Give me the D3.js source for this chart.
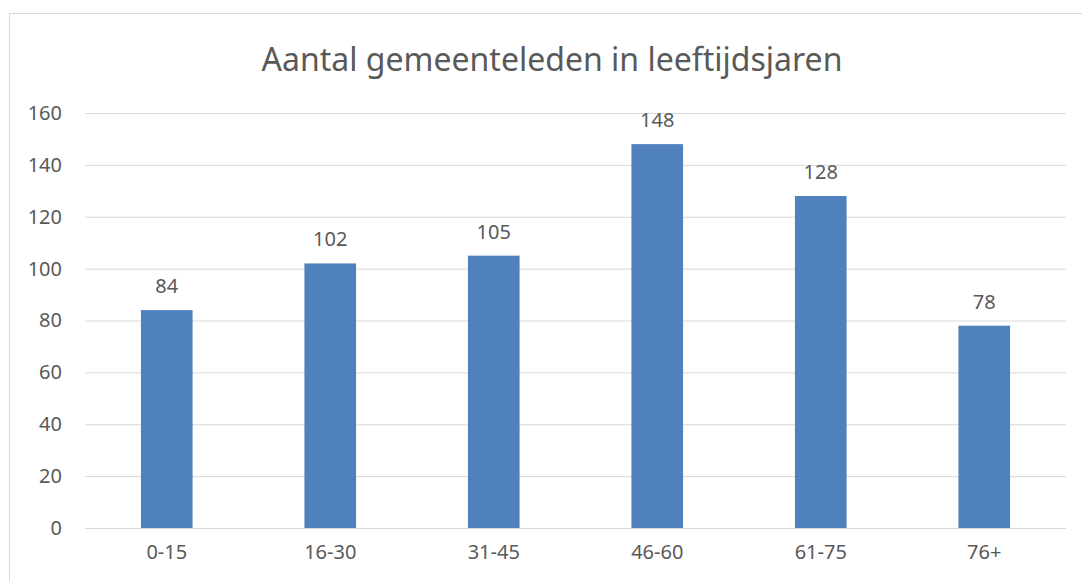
<!DOCTYPE html>
<html>
<head>
<meta charset='UTF-8' />
<title>Aantal gemeenteleden in leeftijdsjaren</title>
<style>
	body { margin: 0; background: #ffffff; }
	svg text { font-family: 'Noto Sans', 'Open Sans', sans-serif; fill: #595959; }
	.axis path { display: none; }
	.axis line { stroke: #d9d9d9; }
</style>
</head>
<body>
<script src='https://d3js.org/d3.v7.min.js'></script>
<script>
'use strict';
const categories = ['0-15', '16-30', '31-45', '46-60', '61-75', '76+'];
const values = [84, 102, 105, 148, 128, 78];
const yTicks = [0, 20, 40, 60, 80, 100, 120, 140, 160];
const title = 'Aantal gemeenteleden in leeftijdsjaren';

const W = 1082, H = 581;
const margin = {top: 113, right: 16, bottom: 53, left: 85};
const width = W - margin.left - margin.right;
const height = H - margin.top - margin.bottom;

const svg = d3.select('body').append('svg')
	.attr('width', W)
	.attr('height', H);

// chart frame
svg.append('rect')
	.attr('x', 9.5).attr('y', 13.5)
	.attr('width', W).attr('height', H)
	.attr('fill', 'none')
	.attr('stroke', '#d9d9d9');

svg.append('text')
	.attr('x', 552).attr('y', 71)
	.attr('text-anchor', 'middle')
	.style('font-size', '32px')
	.text(title);

const g = svg.append('g')
	.attr('transform', 'translate(' + margin.left + ',' + margin.top + ')');

const x = d3.scaleBand()
	.domain(categories)
	.range([0, width])
	.paddingInner(0.684)
	.paddingOuter(0.342);

const y = d3.scaleLinear()
	.domain([0, 160])
	.range([height, 0]);

// gridlines + y labels
const yAxis = g.append('g')
	.attr('class', 'axis')
	.call(d3.axisLeft(y).tickValues(yTicks).tickSize(-width).tickPadding(23));
yAxis.selectAll('line').attr('stroke', '#d9d9d9');
yAxis.selectAll('text').style('font-size', '20px').attr('fill', '#595959');

// x labels
const xAxis = g.append('g')
	.attr('class', 'axis')
	.attr('transform', 'translate(0,' + height + ')')
	.call(d3.axisBottom(x).tickSize(0).tickPadding(17));
xAxis.selectAll('text').style('font-size', '20px').attr('fill', '#595959');

g.selectAll('rect.bar')
	.data(values)
	.enter().append('rect')
	.attr('class', 'bar')
	.attr('x', function(d, i) { return x(categories[i]); })
	.attr('width', x.bandwidth())
	.attr('y', function(d) { return y(d); })
	.attr('height', function(d) { return height - y(d); })
	.attr('fill', '#4f81bd');

g.selectAll('text.lbl')
	.data(values)
	.enter().append('text')
	.attr('class', 'lbl')
	.attr('x', function(d, i) { return x(categories[i]) + x.bandwidth() / 2; })
	.attr('y', function(d) { return y(d) - 17; })
	.attr('text-anchor', 'middle')
	.style('font-size', '20px')
	.text(function(d) { return d; });
</script>
</body>
</html>
